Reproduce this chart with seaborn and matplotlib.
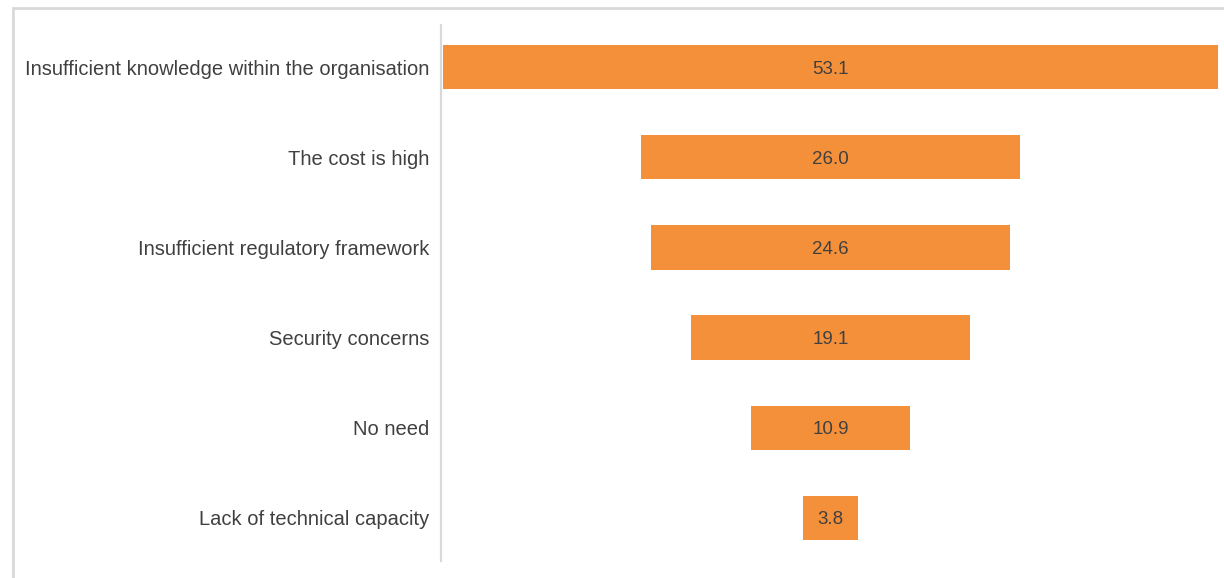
import matplotlib
matplotlib.use("Agg")
import matplotlib.pyplot as plt
from matplotlib.patches import Rectangle
import seaborn as sns
import pandas as pd

categories = [
    "Insufficient knowledge within the organisation",
    "The cost is high",
    "Insufficient regulatory framework",
    "Security concerns",
    "No need",
    "Lack of technical capacity",
]
values = [53.1, 26.0, 24.6, 19.1, 10.9, 3.8]

BAR_COLOR = "#F5903A"
TEXT_COLOR = "#404040"
LINE_COLOR = "#D9D9D9"

sns.set_theme(style="white")
plt.rcParams["font.family"] = ["Liberation Sans", "DejaVu Sans"]

df = pd.DataFrame({"category": categories, "value": values})

fig = plt.figure(figsize=(12.24, 5.78), dpi=100)
ax = fig.add_axes([441 / 1224, 1 - 563 / 578, 779 / 1224, 541 / 578])

sns.barplot(data=df, x="value", y="category", orient="h", color=BAR_COLOR,
            saturation=1, width=0.49, linewidth=0, ax=ax)

# centre every bar on zero to form the funnel
for patch, v in zip(ax.patches, values):
    patch.set_x(-v / 2)
    patch.set_width(v)
    ax.text(0, patch.get_y() + patch.get_height() / 2, f"{v:.1f}",
            ha="center", va="center_baseline", color=TEXT_COLOR, fontsize=13.5)

ax.set_xlim(-26.7, 26.7)
ax.set_ylim(5.5, -0.5)
ax.set_xlabel("")
ax.set_ylabel("")
ax.set_xticks([])
ax.tick_params(axis="y", length=0, pad=8.6, labelsize=14.5, labelcolor=TEXT_COLOR)
for side in ("top", "right", "bottom"):
    ax.spines[side].set_visible(False)
ax.spines["left"].set_color(LINE_COLOR)
ax.spines["left"].set_linewidth(1.6)
ax.spines["left"].set_bounds(5.48, -0.47)

# light frame around the figure
fig.patches.append(Rectangle((13 / 1224, -0.05), 1.1, 1 - 8 / 578 + 0.05,
                             transform=fig.transFigure, fill=False,
                             edgecolor=LINE_COLOR, linewidth=2))

fig.savefig("out.png", dpi=100, facecolor="white")
